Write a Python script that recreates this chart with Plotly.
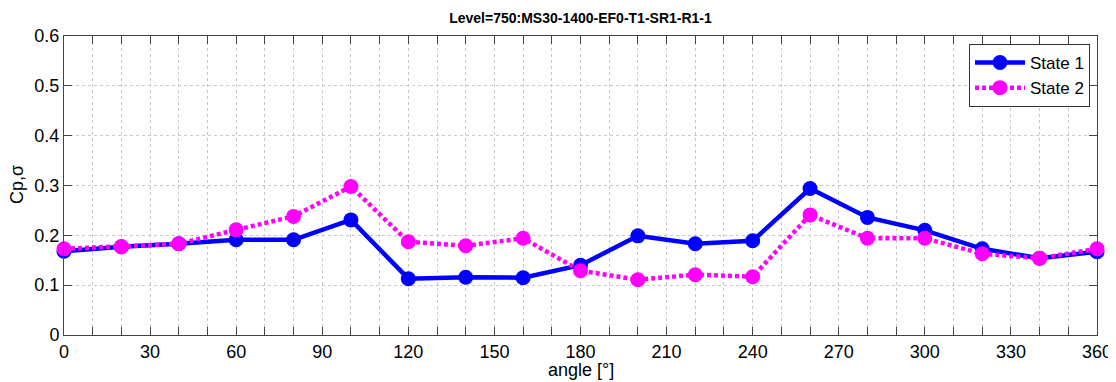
import plotly.graph_objects as go

angles = [0, 20, 40, 60, 80, 100, 120, 140, 160, 180, 200, 220, 240, 260, 280, 300, 320, 340, 360]
state1 = [0.168, 0.177, 0.183, 0.191, 0.191, 0.231, 0.113, 0.116, 0.115, 0.140, 0.199, 0.183, 0.189, 0.294, 0.236, 0.210, 0.173, 0.154, 0.167]
state2 = [0.173, 0.177, 0.183, 0.211, 0.238, 0.298, 0.187, 0.179, 0.194, 0.129, 0.111, 0.121, 0.117, 0.241, 0.194, 0.194, 0.163, 0.154, 0.173]
x_ticks = list(range(0, 361, 30))
y_ticks = [0, 0.1, 0.2, 0.3, 0.4, 0.5, 0.6]

FONT = "Liberation Sans, Arial, sans-serif"

# The page adds an 8px body margin; shift the figure so the plot area lands where the reference has it
OFF = 8
W, H = 1108, 374
ML, MR, MT, MB = 64 - OFF, W - (1097 - OFF), 36 - OFF, H - (335 - OFF)

fig = go.Figure()
fig.add_trace(go.Scatter(
    x=angles, y=state1, name="State 1", mode="lines+markers",
    line=dict(color="#0000ff", width=4.5),
    marker=dict(color="#0000ff", size=15),
    cliponaxis=False,
))
fig.add_trace(go.Scatter(
    x=angles, y=state2, name="State 2", mode="lines+markers",
    line=dict(color="#ff00ff", width=4.5, dash="4px,3px"),
    marker=dict(color="#ff00ff", size=15),
    cliponaxis=False,
))

grid_color = "#c8c8c8"
pw = W - ML - MR
ph = H - MT - MB
fig.update_layout(
    width=W, height=H,
    margin=dict(l=ML, r=MR, t=MT, b=MB),
    paper_bgcolor="white", plot_bgcolor="white",
    font=dict(family=FONT, color="black", size=18),
    title=dict(text="<b>Level=750:MS30-1400-EF0-T1-SR1-R1-1</b>",
               x=(580.5 - OFF) / W, xanchor="center", y=1 - (18 - OFF) / H, yanchor="middle",
               font=dict(size=14, family=FONT, color="black")),
    showlegend=True,
    legend=dict(x=(1090 - OFF - ML) / pw, xanchor="right", y=1 - (44 - OFF - MT) / ph, yanchor="top",
                bgcolor="white", bordercolor="#333333", borderwidth=1,
                font=dict(size=17, family=FONT, color="black"),
                itemwidth=50, tracegroupgap=0),
    annotations=[
        dict(text="angle [°]", xref="paper", yref="paper",
             x=0.5, y=-(370 - 335) / ph, xanchor="center", yanchor="middle",
             showarrow=False, font=dict(size=18, family=FONT, color="black")),
        dict(text="Cp,σ", xref="paper", yref="paper", textangle=-90,
             x=-(64 - 17) / pw, y=1 - (185 - 36) / ph, xanchor="center", yanchor="middle",
             showarrow=False, font=dict(size=18, family=FONT, color="black")),
    ],
)
fig.update_xaxes(
    range=[0, 360], tickvals=x_ticks, ticktext=[str(v) for v in x_ticks],
    ticks="inside", ticklen=8, tickcolor="#444444", tickwidth=1,
    showline=True, linecolor="#444444", linewidth=1, mirror="ticks",
    showgrid=True, gridcolor=grid_color, griddash="dot", gridwidth=1,
    zeroline=False, automargin=False,
    minor=dict(dtick=10, tick0=0, ticks="inside", ticklen=8, tickcolor="#444444",
               showgrid=True, gridcolor=grid_color, griddash="dot", gridwidth=1),
    tickfont=dict(size=18, family=FONT, color="black"),
)
fig.update_yaxes(
    range=[0, 0.6], tickvals=y_ticks, ticktext=["0", "0.1", "0.2", "0.3", "0.4", "0.5", "0.6"],
    ticks="inside", ticklen=8, tickcolor="#444444", tickwidth=1,
    showline=True, linecolor="#444444", linewidth=1, mirror="ticks",
    showgrid=True, gridcolor=grid_color, griddash="dot", gridwidth=1,
    zeroline=False, automargin=False,
    tickfont=dict(size=18, family=FONT, color="black"),
)

fig.write_html("out.html")
